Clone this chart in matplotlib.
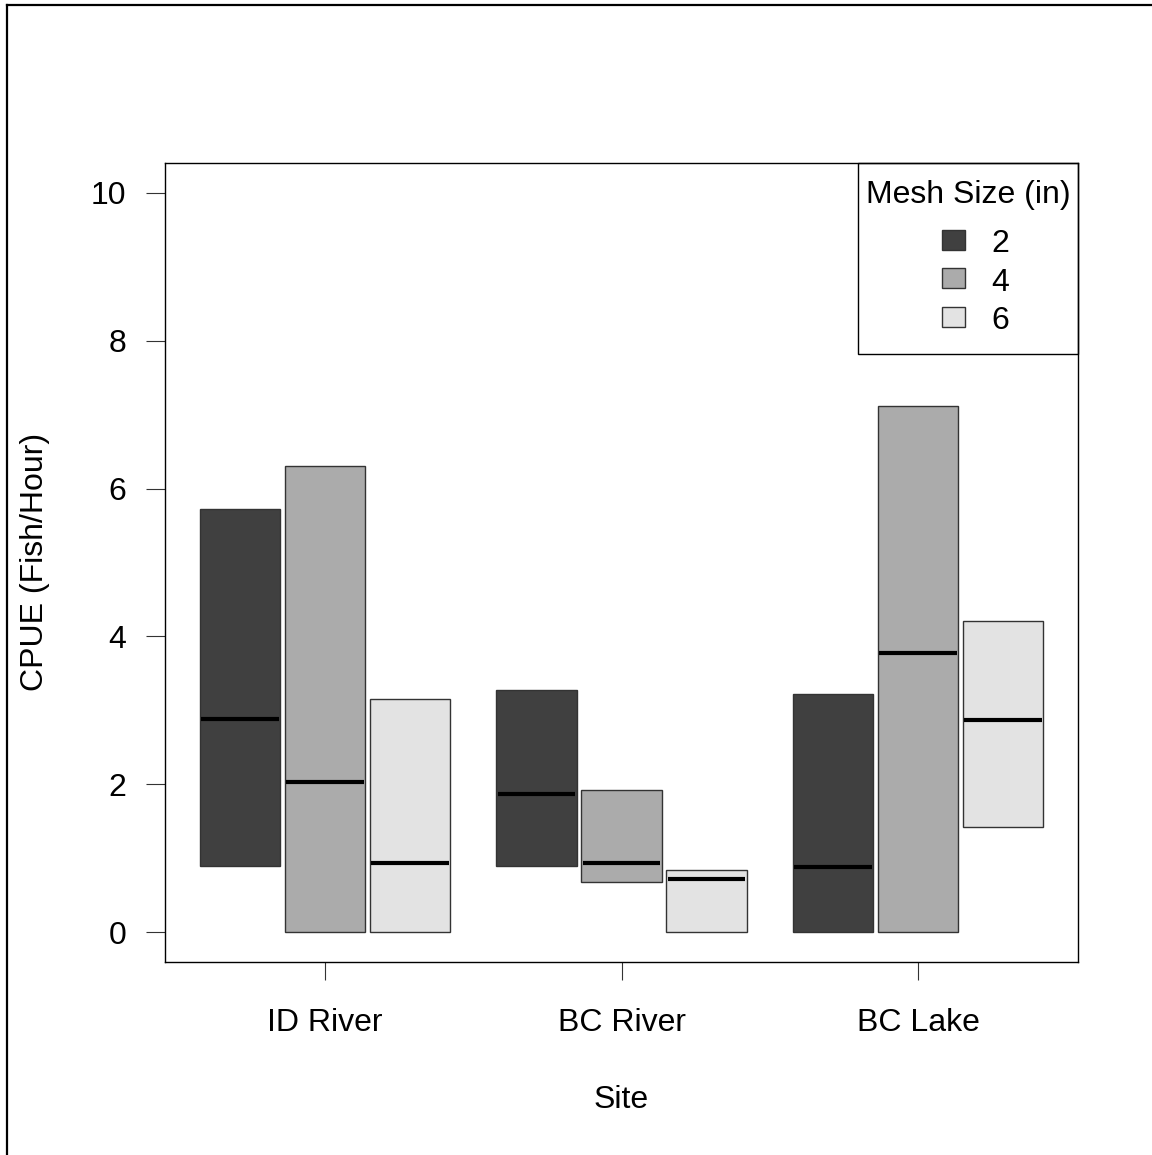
import matplotlib
matplotlib.use("Agg")
import matplotlib.pyplot as plt
from matplotlib.patches import Rectangle
from matplotlib.lines import Line2D
import numpy as np

# --- data -------------------------------------------------------------
sites = ["ID River", "BC River", "BC Lake"]
mesh_sizes = ["2", "4", "6"]
mesh_colors = ["#404040", "#ABABAB", "#E3E3E3"]

# CPUE range (low / high) and median per site (rows) and mesh size (columns)
cpue_low = [
    [0.90, 0.00, 0.00],
    [0.90, 0.68, 0.00],
    [0.00, 0.00, 1.43],
]
cpue_high = [
    [5.72, 6.31, 3.16],
    [3.28, 1.92, 0.85],
    [3.22, 7.11, 4.21],
]
cpue_median = [
    [2.89, 2.03, 0.94],
    [1.87, 0.94, 0.72],
    [0.89, 3.77, 2.87],
]

y_ticks = [0, 2, 4, 6, 8, 10]

# --- figure -----------------------------------------------------------
W, H = 1152, 1155
plt.rcParams["font.family"] = ["Liberation Sans", "DejaVu Sans"]
fig = plt.figure(figsize=(W / 100, H / 100), dpi=100)
fig.patch.set_facecolor("white")


def fx(px):
    return px / W


def fy(py):
    return 1 - py / H


ax = fig.add_axes([fx(165), fy(962), (1078 - 165) / W, (962 - 163) / H])

low = np.array(cpue_low)
high = np.array(cpue_high)
med = np.array(cpue_median)

offset = 0.2867
width = 0.27
centers = np.arange(1, len(sites) + 1)

for j, (m, col) in enumerate(zip(mesh_sizes, mesh_colors)):
    xs = centers + (j - 1) * offset
    ax.bar(xs, high[:, j] - low[:, j], bottom=low[:, j], width=width,
           color=col, edgecolor="#333333", linewidth=1.0, zorder=2)
    ax.hlines(med[:, j], xs - width / 2 + 0.004, xs + width / 2 - 0.004,
              colors="black", linewidth=3.0, zorder=3)

ax.set_xlim(0.4604, 3.5396)
ax.set_ylim(-0.4, 10.4)
ax.set_xticks(centers)
ax.set_xticklabels(sites)
ax.set_yticks(y_ticks)
ax.set_yticklabels([str(t) for t in y_ticks])
ax.tick_params(axis="both", direction="out", width=0.8,
               color="#333333", labelsize=23)
ax.tick_params(axis="y", length=14, pad=14)
ax.tick_params(axis="x", length=13, pad=20)
for sp in ax.spines.values():
    sp.set_linewidth(1.0)
    sp.set_color("black")

# axis titles
fig.text(fx(43), fy(562), "CPUE (Fish/Hour)", rotation=90, fontsize=23,
         ha="center", va="baseline", rotation_mode="anchor")
fig.text(fx(621), fy(1108), "Site", fontsize=23, ha="center", va="baseline")

# legend
fig.add_artist(Rectangle((fx(858), fy(354)), (1078 - 858) / W, (354 - 163) / H,
                         transform=fig.transFigure, fill=False,
                         edgecolor="black", linewidth=1.0, zorder=5))
fig.text(fx(968), fy(203), "Mesh Size (in)", fontsize=23,
         ha="center", va="baseline", zorder=6)
row_y = [240, 278.3, 316.7]
for yc, m, col in zip(row_y, mesh_sizes, mesh_colors):
    fig.add_artist(Rectangle((fx(942), fy(yc + 10)), 23 / W, 20 / H,
                             transform=fig.transFigure, facecolor=col,
                             edgecolor="#333333", linewidth=1.0, zorder=6))
    fig.text(fx(991), fy(yc + 12.5), m, fontsize=23, ha="left",
             va="baseline", zorder=6)

# outer frame lines (top and left)
fig.add_artist(Line2D([fx(7), 1], [fy(5), fy(5)], transform=fig.transFigure,
                      color="black", linewidth=1.6))
fig.add_artist(Line2D([fx(7), fx(7)], [0, fy(5)], transform=fig.transFigure,
                      color="black", linewidth=1.6))

fig.savefig("out.png", dpi=100, facecolor="white")
